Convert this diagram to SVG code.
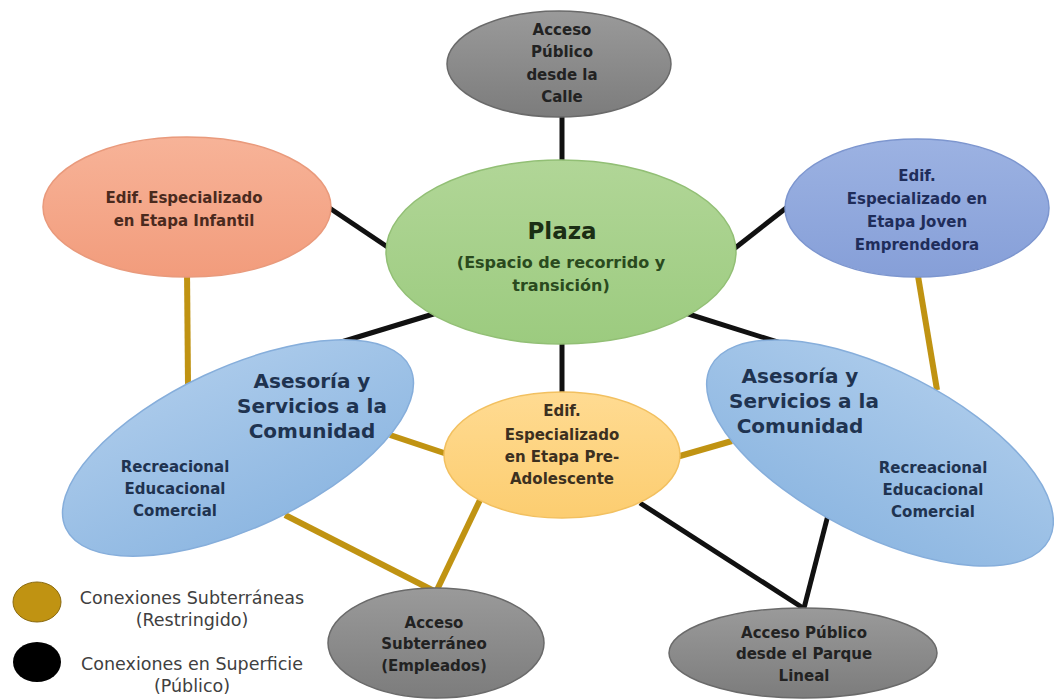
<svg xmlns="http://www.w3.org/2000/svg" width="1054" height="700" viewBox="0 0 1054 700">
<style>
text{font-family:"DejaVu Sans","Liberation Sans",sans-serif;font-weight:bold;text-anchor:middle}
.blk{stroke:#111;stroke-width:5;fill:none}
.gld{stroke:#C09312;stroke-width:6;fill:none}
.t15{font-size:15px}
.t21{font-size:20px}
.lg{font-size:17.5px;font-weight:normal;fill:#404040}
</style>
<defs>
<linearGradient id="gGray" x1="0" y1="0" x2="0" y2="1"><stop offset="0" stop-color="#9a9a9a"/><stop offset="1" stop-color="#7c7c7c"/></linearGradient>
<linearGradient id="gGreen" x1="0" y1="0" x2="0" y2="1"><stop offset="0" stop-color="#b1d697"/><stop offset="1" stop-color="#9ccb7f"/></linearGradient>
<linearGradient id="gOrange" x1="0" y1="0" x2="0" y2="1"><stop offset="0" stop-color="#f7b398"/><stop offset="1" stop-color="#f29c7c"/></linearGradient>
<linearGradient id="gPurple" x1="0" y1="0" x2="0" y2="1"><stop offset="0" stop-color="#9cb2e2"/><stop offset="1" stop-color="#869fd8"/></linearGradient>
<linearGradient id="gBlue" x1="0" y1="0" x2="0" y2="1"><stop offset="0" stop-color="#a9c9ea"/><stop offset="1" stop-color="#8fb8e2"/></linearGradient>
<linearGradient id="gYellow" x1="0" y1="0" x2="0" y2="1"><stop offset="0" stop-color="#ffdb92"/><stop offset="1" stop-color="#fccd70"/></linearGradient>
</defs>
<rect width="1054" height="700" fill="#ffffff"/>
<g id="connectors">
<line class="blk" x1="562" y1="110" x2="562" y2="165"/>
<line class="blk" x1="325" y1="205" x2="392" y2="250"/>
<line class="blk" x1="730" y1="252" x2="790" y2="205"/>
<line class="blk" x1="440" y1="312" x2="315" y2="350"/>
<line class="blk" x1="682" y1="312" x2="803" y2="350"/>
<line class="blk" x1="562" y1="335" x2="562" y2="398"/>
<line class="blk" x1="640" y1="503" x2="803" y2="608"/>
<line class="blk" x1="828" y1="515" x2="803" y2="612"/>
<line class="gld" x1="187" y1="270" x2="188" y2="385"/>
<line class="gld" x1="917" y1="270" x2="937" y2="390"/>
<line class="gld" x1="390" y1="435" x2="450" y2="455"/>
<line class="gld" x1="673" y1="458" x2="732" y2="441"/>
<line class="gld" x1="285" y1="515" x2="436" y2="592"/>
<line class="gld" x1="480" y1="500" x2="436" y2="592"/>
</g>
<g id="n-acceso-calle">
<ellipse cx="559" cy="64" rx="112" ry="53" fill="url(#gGray)" stroke="#6a6a6a" stroke-width="1.5"/>
<text class="t15" fill="#222" x="562" y="35">Acceso</text>
<text class="t15" fill="#222" x="562" y="57">Público</text>
<text class="t15" fill="#222" x="562" y="80">desde la</text>
<text class="t15" fill="#222" x="562" y="102">Calle</text>
</g>
<g id="n-plaza">
<ellipse cx="561" cy="252" rx="175" ry="92" fill="url(#gGreen)" stroke="#92bf75" stroke-width="1.5"/>
<text font-size="23" fill="#1b2e14" x="562" y="239">Plaza</text>
<text font-size="16" fill="#2a4a1e" x="561" y="268">(Espacio de recorrido y</text>
<text font-size="16" fill="#2a4a1e" x="561" y="291">transición)</text>
</g>
<g id="n-infantil">
<ellipse cx="187" cy="207" rx="144" ry="70" fill="url(#gOrange)" stroke="#e99a7c" stroke-width="1.5"/>
<text class="t15" fill="#4a2a1e" x="184" y="203">Edif. Especializado</text>
<text class="t15" fill="#4a2a1e" x="184" y="226">en Etapa Infantil</text>
</g>
<g id="n-joven">
<ellipse cx="917" cy="208" rx="132" ry="69" fill="url(#gPurple)" stroke="#7d96cf" stroke-width="1.5"/>
<text class="t15" fill="#1f2d5a" x="917" y="181">Edif.</text>
<text class="t15" fill="#1f2d5a" x="917" y="204">Especializado en</text>
<text class="t15" fill="#1f2d5a" x="917" y="227">Etapa Joven</text>
<text class="t15" fill="#1f2d5a" x="917" y="250">Emprendedora</text>
</g>
<g id="n-asesoria-izq">
<ellipse cx="238" cy="448" rx="190" ry="80" transform="rotate(-25 238 448)" fill="url(#gBlue)" stroke="#86aedb" stroke-width="1.5"/>
<text class="t21" fill="#1f3350" x="312" y="388">Asesoría y</text>
<text class="t21" fill="#1f3350" x="312" y="413">Servicios a la</text>
<text class="t21" fill="#1f3350" x="312" y="438">Comunidad</text>
<text class="t15" fill="#1f3350" x="175" y="472">Recreacional</text>
<text class="t15" fill="#1f3350" x="175" y="494">Educacional</text>
<text class="t15" fill="#1f3350" x="175" y="516">Comercial</text>
</g>
<g id="n-asesoria-der">
<ellipse cx="880" cy="453" rx="190" ry="82" transform="rotate(27 880 453)" fill="url(#gBlue)" stroke="#86aedb" stroke-width="1.5"/>
<text class="t21" fill="#1f3350" x="800" y="383">Asesoría y</text>
<text class="t21" fill="#1f3350" x="804" y="408">Servicios a la</text>
<text class="t21" fill="#1f3350" x="800" y="433">Comunidad</text>
<text class="t15" fill="#1f3350" x="933" y="473">Recreacional</text>
<text class="t15" fill="#1f3350" x="933" y="495">Educacional</text>
<text class="t15" fill="#1f3350" x="933" y="517">Comercial</text>
</g>
<g id="n-preadolescente">
<ellipse cx="562" cy="455" rx="118" ry="63" fill="url(#gYellow)" stroke="#f2c060" stroke-width="1.5"/>
<text class="t15" fill="#3c3020" x="562" y="416">Edif.</text>
<text class="t15" fill="#3c3020" x="562" y="440">Especializado</text>
<text class="t15" fill="#3c3020" x="562" y="462">en Etapa Pre-</text>
<text class="t15" fill="#3c3020" x="562" y="484">Adolescente</text>
</g>
<g id="n-acceso-subterraneo">
<ellipse cx="436" cy="643" rx="108" ry="55" fill="url(#gGray)" stroke="#6a6a6a" stroke-width="1.5"/>
<text class="t15" fill="#222" x="434" y="628">Acceso</text>
<text class="t15" fill="#222" x="434" y="649">Subterráneo</text>
<text class="t15" fill="#222" x="434" y="671">(Empleados)</text>
</g>
<g id="n-acceso-parque">
<ellipse cx="803" cy="653" rx="134" ry="45" fill="url(#gGray)" stroke="#6a6a6a" stroke-width="1.5"/>
<text class="t15" fill="#222" x="804" y="638">Acceso Público</text>
<text class="t15" fill="#222" x="804" y="659">desde el Parque</text>
<text class="t15" fill="#222" x="804" y="681">Lineal</text>
</g>
<g id="legend">
<ellipse cx="37" cy="602" rx="24" ry="20" fill="#C09312" stroke="#8a6a10" stroke-width="1"/>
<ellipse cx="37" cy="662" rx="24" ry="20" fill="#000"/>
<text class="lg" x="192" y="604">Conexiones Subterráneas</text>
<text class="lg" x="192" y="626">(Restringido)</text>
<text class="lg" x="192" y="670">Conexiones en Superficie</text>
<text class="lg" x="192" y="692">(Público)</text>
</g>
</svg>
